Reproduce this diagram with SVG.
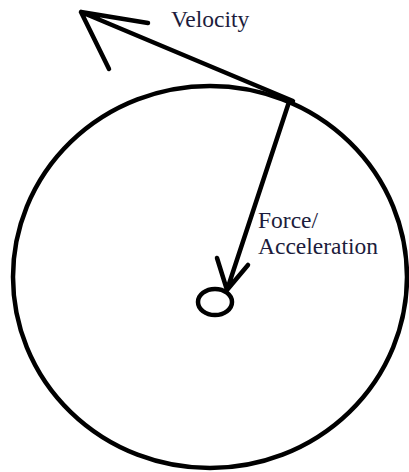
<svg xmlns="http://www.w3.org/2000/svg" width="409" height="472" viewBox="0 0 409 472">
<style>
.s{fill:none;stroke:#000;stroke-width:4.5;stroke-linecap:round;stroke-linejoin:round}
.t{font-family:"Liberation Serif","Times New Roman",serif;font-size:23.5px;fill:#1c1c3c}
</style>
<rect width="409" height="472" fill="#fff"/>
<g id="orbit"><ellipse class="s" cx="210" cy="277" rx="197" ry="191"/></g>
<g id="body"><ellipse class="s" cx="215" cy="302" rx="17" ry="13"/></g>
<g id="connectors">
<path class="s" d="M293,101 L81,12 M148,23 L81,12 L109,69"/>
<path class="s" d="M289,102 L227,290 M217,258 L227,290 L248,265"/>
</g>
<g id="labels">
<text class="t" x="171" y="27">Velocity</text>
<text class="t" x="258" y="228">Force/</text>
<text class="t" x="258" y="254">Acceleration</text>
</g>
</svg>
